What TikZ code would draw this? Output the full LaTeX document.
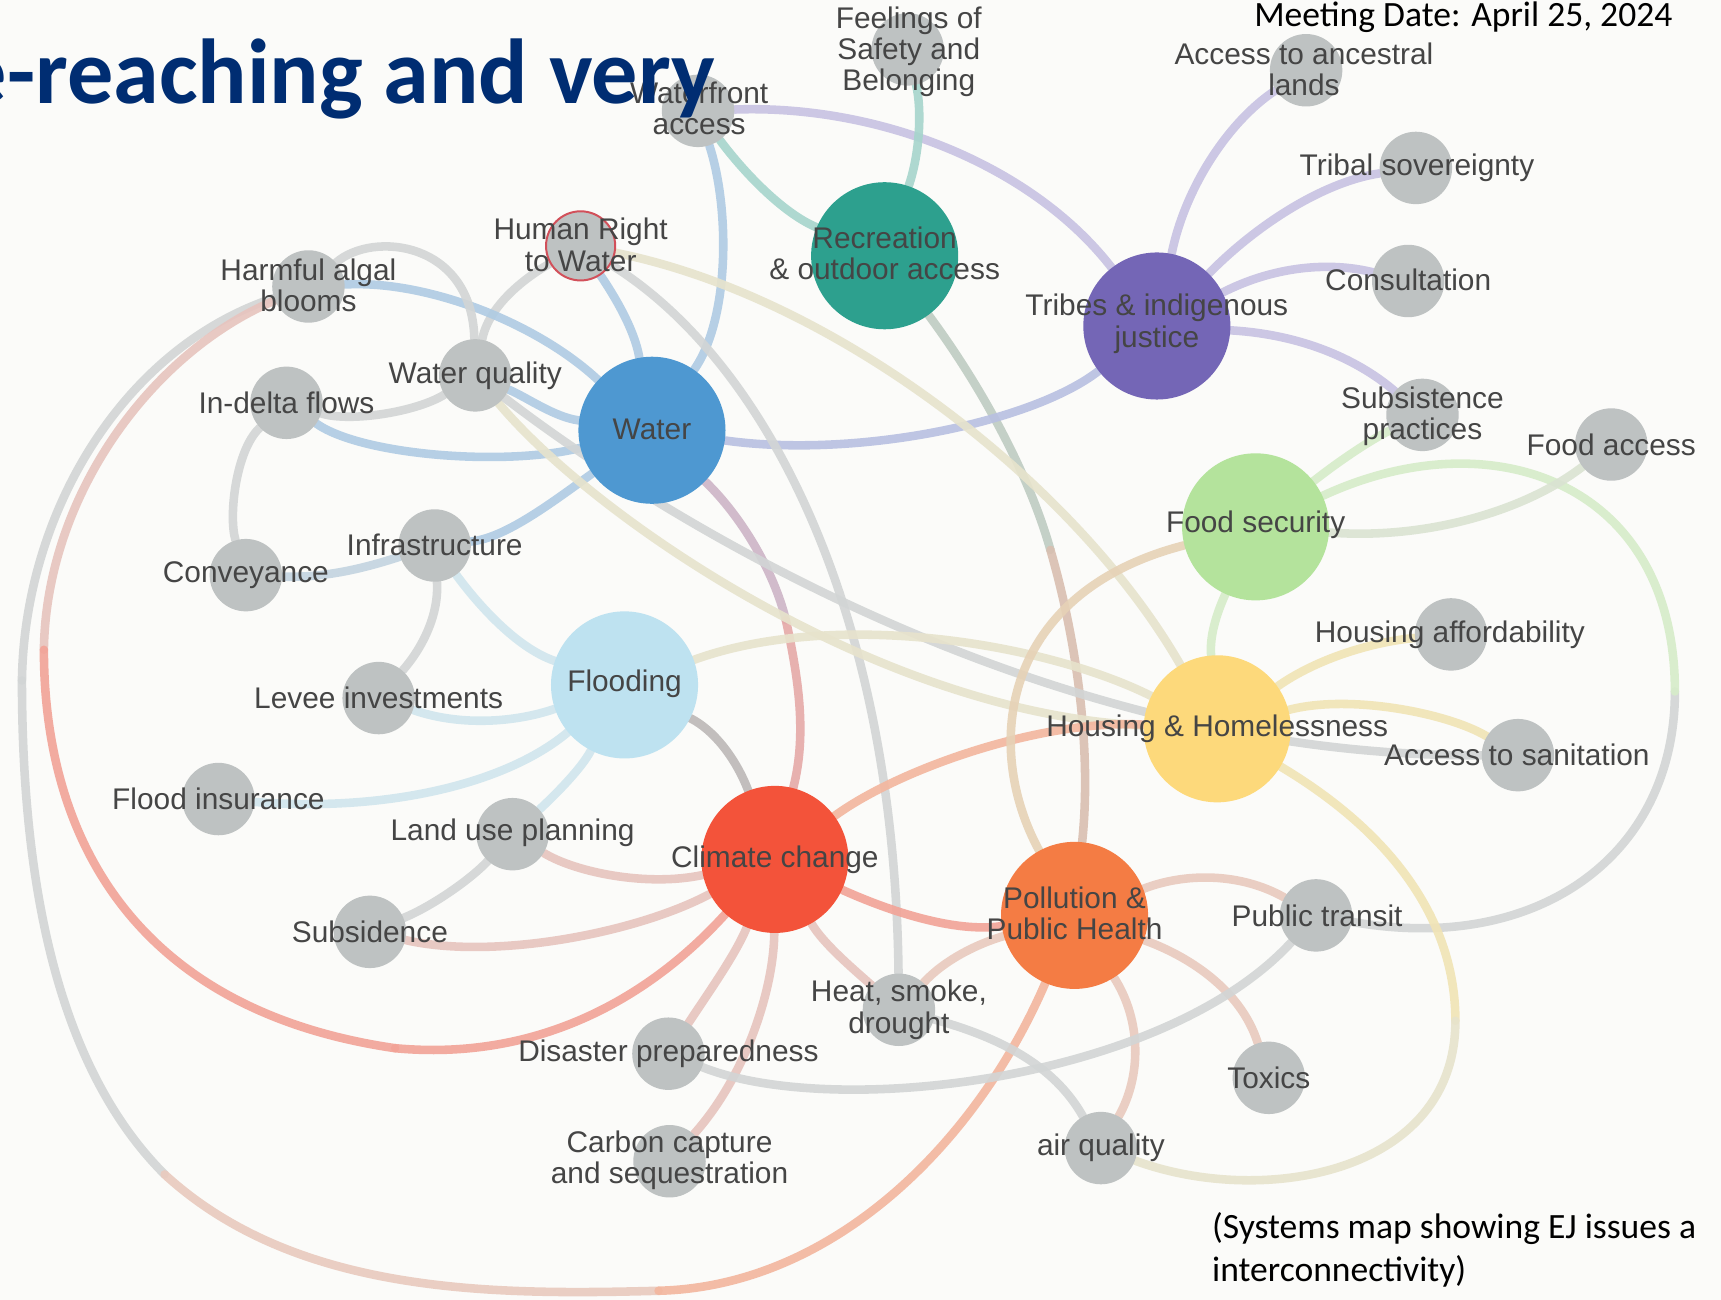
\documentclass[tikz,border=0pt]{standalone}
\usepackage{fontspec}
\setmainfont{Liberation Sans}
\newfontfamily\calib{Carlito}
\pgfdeclarelayer{bglayer}
\pgfdeclarelayer{edgelayer}
\pgfsetlayers{bglayer,edgelayer,main}
\definecolor{bgc}{HTML}{FBFBF9}
\definecolor{ngray}{HTML}{BEC2C2}
\definecolor{txt}{HTML}{454545}
\definecolor{titleblue}{HTML}{002D72}
\definecolor{hrwred}{HTML}{D2505A}
\definecolor{cRec}{HTML}{2DA08E}
\definecolor{cTri}{HTML}{7466B6}
\definecolor{cWater}{HTML}{4E98D1}
\definecolor{cFood}{HTML}{B4E39C}
\definecolor{cFlood}{HTML}{BEE2F0}
\definecolor{cHouse}{HTML}{FDD97B}
\definecolor{cClim}{HTML}{F3533A}
\definecolor{cPoll}{HTML}{F47C44}
\definecolor{eBlue}{HTML}{AFCBE3}
\definecolor{eGray}{HTML}{D2D5D5}
\definecolor{ePurp}{HTML}{C7C2E2}
\definecolor{eTeal}{HTML}{A6D5CC}
\definecolor{eRed}{HTML}{F2A397}
\definecolor{eRedGray}{HTML}{E7C4BE}
\definecolor{eOrange}{HTML}{F3B69E}
\definecolor{eOrGray}{HTML}{E9CABE}
\definecolor{eYellow}{HTML}{F1E4B5}
\definecolor{eYelGray}{HTML}{E7E3CC}
\definecolor{eGreen}{HTML}{D6ECC9}
\definecolor{eGreenGray}{HTML}{DAE3D2}
\definecolor{eLBlue}{HTML}{D0E5ED}
\definecolor{eMauve}{HTML}{CDB5C6}
\definecolor{eRedMauve}{HTML}{E5A9A8}
\definecolor{eBluePurp}{HTML}{B8C0E1}
\definecolor{eTealGray}{HTML}{BFCCC2}
\definecolor{eBrown}{HTML}{D9BFB0}
\definecolor{eOrGreen}{HTML}{E6D2B6}
\definecolor{eDark}{HTML}{BCB8B7}
\definecolor{eBlueGray}{HTML}{C3D4E0}
\tikzset{
  gnode/.style={circle, fill=ngray, minimum size=33pt, inner sep=0pt},
  bnode/.style={circle, minimum size=67pt, inner sep=0pt},
  lbl/.style={text=txt, font=\fontsize{13.6}{14.2}\selectfont, align=center, inner sep=0pt},
  edge/.style={line width=3.9pt, line cap=round, draw opacity=0.9},
  capt/.style={inner sep=0pt, font=\calib\fontsize{16.2}{19}\selectfont, text=black}
}
\begin{document}
\begin{tikzpicture}[x=0.5pt,y=-0.5pt]
\begin{pgfonlayer}{bglayer}
\fill[bgc] (0,0) rectangle (1568,1184);
\end{pgfonlayer}
\useasboundingbox (0,0) rectangle (1568,1184);

% ---------- circles ----------
\node[gnode] (wf) at (636,101) {};
\node[gnode] (fsb) at (827,45) {};
\node[bnode, fill=cRec] (rec) at (806,233) {};
\node[bnode, fill=cTri] (tri) at (1054,297) {};
\node[gnode] (anc) at (1190,64) {};
\node[gnode] (tsov) at (1290,153) {};
\node[gnode] (cons) at (1283,256) {};
\node[gnode] (subp) at (1296,378) {};
\node[gnode] (facc) at (1468,405) {};
\node[bnode, fill=cFood] (food) at (1144,480) {};
\node[gnode, draw=hrwred, line width=0.9pt, minimum size=31.5pt] (hrw) at (529,224) {};
\node[gnode] (hab) at (281,261) {};
\node[gnode] (wq) at (433,342) {};
\node[gnode] (idf) at (261,367) {};
\node[bnode, fill=cWater] (water) at (594,392) {};
\node[gnode] (infra) at (396,497) {};
\node[gnode] (conv) at (224,524) {};
\node[bnode, fill=cFlood] (flood) at (569,624) {};
\node[gnode] (levee) at (345,636) {};
\node[gnode] (finsu) at (199,728) {};
\node[gnode] (lup) at (467,760) {};
\node[gnode] (subs) at (337,849) {};
\node[bnode, fill=cClim] (clim) at (706,783) {};
\node[gnode] (dis) at (609,960) {};
\node[gnode] (carb) at (610,1058) {};
\node[gnode] (heat) at (819,920) {};
\node[bnode, fill=cPoll] (poll) at (979,834) {};
\node[gnode] (ptr) at (1199,834) {};
\node[gnode] (tox) at (1156,982) {};
\node[gnode] (airq) at (1003,1046) {};
\node[bnode, fill=cHouse] (house) at (1109,664) {};
\node[gnode] (haff) at (1322,578) {};
\node[gnode] (sanit) at (1383,688) {};

% ---------- free coordinates for long arcs ----------
\coordinate (redL) at (40,592);
\coordinate (redB) at (360,955);
\coordinate (outL) at (20,620);
\coordinate (outM) at (150,1070);
\coordinate (outB) at (600,1176);
\coordinate (gArc) at (1526,630);
\coordinate (yArc) at (1326,930);
\coordinate (rpMid) at (957,501);
\coordinate (wcMid) at (716,565);

% ---------- connectors ----------
\begin{pgfonlayer}{edgelayer}
% long arcs from Harmful algal blooms
\draw[edge, draw=eGray] (hab) .. controls (110,318) and (22,470) .. (outL);
\draw[edge, draw=eGray] (outL) .. controls (20,850) and (70,990) .. (outM);
\draw[edge, draw=eOrGray] (outM) .. controls (270,1180) and (450,1180) .. (outB);
\draw[edge, draw=eOrange] (outB) .. controls (760,1172) and (890,1040) .. (poll);
\draw[edge, draw=eRedGray] (hab) .. controls (140,320) and (42,450) .. (redL);
\draw[edge, draw=eRed] (redL) .. controls (40,760) and (120,920) .. (redB);
\draw[edge, draw=eRed] (redB) .. controls (500,968) and (600,900) .. (clim);

% Waterfront / Feelings / Recreation / Tribes
\draw[edge, draw=eTeal] (wf) .. controls (680,160) and (715,195) .. (rec);
\draw[edge, draw=ePurp] (wf) .. controls (800,95) and (940,150) .. (tri);
\draw[edge, draw=eBlue] (wf) .. controls (665,190) and (665,290) .. (water);
\draw[edge, draw=eTeal] (fsb) .. controls (840,100) and (838,140) .. (rec);
\draw[edge, draw=eTealGray] (rec) .. controls (900,360) and (940,440) .. (rpMid);
\draw[edge, draw=eBrown] (rpMid) .. controls (980,580) and (995,680) .. (poll);
\draw[edge, draw=ePurp] (tri) .. controls (1080,170) and (1120,110) .. (anc);
\draw[edge, draw=ePurp] (tri) .. controls (1150,200) and (1210,165) .. (tsov);
\draw[edge, draw=ePurp] (tri) .. controls (1160,243) and (1210,238) .. (cons);
\draw[edge, draw=ePurp] (tri) .. controls (1190,305) and (1240,330) .. (subp);
\draw[edge, draw=eBluePurp] (tri) .. controls (940,385) and (780,418) .. (water);

% Human Right to Water
\draw[edge, draw=eBlue] (hrw) .. controls (560,270) and (578,300) .. (water);
\draw[edge, draw=eGray] (hrw) .. controls (475,255) and (445,280) .. (wq);
\draw[edge, draw=eYelGray] (hrw) .. controls (760,270) and (980,440) .. (house);
\draw[edge, draw=eGray] (hrw) .. controls (700,330) and (815,560) .. (heat);

% Water cluster
\draw[edge, draw=eBlue] (hab) .. controls (390,255) and (490,295) .. (water);
\draw[edge, draw=eBlue] (wq) .. controls (480,362) and (505,380) .. (water);
\draw[edge, draw=eBlue] (idf) .. controls (330,415) and (460,425) .. (water);
\draw[edge, draw=eBlue] (infra) .. controls (460,490) and (500,460) .. (water);
\draw[edge, draw=eMauve] (water) .. controls (675,470) and (705,520) .. (wcMid);
\draw[edge, draw=eRedMauve] (wcMid) .. controls (728,620) and (735,670) .. (clim);
\draw[edge, draw=eGray] (hab) .. controls (340,210) and (430,220) .. (wq);
\draw[edge, draw=eGray] (idf) .. controls (320,385) and (380,375) .. (wq);
\draw[edge, draw=eYelGray] (wq) .. controls (540,470) and (800,650) .. (house);
\draw[edge, draw=eGray] (wq) .. controls (600,470) and (950,690) .. (sanit);
\draw[edge, draw=eGray] (idf) .. controls (215,410) and (208,470) .. (conv);
\draw[edge, draw=eBlueGray] (conv) .. controls (300,527) and (340,515) .. (infra);
\draw[edge, draw=eGray] (infra) .. controls (400,560) and (385,590) .. (levee);
\draw[edge, draw=eLBlue] (infra) .. controls (435,550) and (470,590) .. (flood);

% Flooding cluster
\draw[edge, draw=eLBlue] (levee) .. controls (420,662) and (470,658) .. (flood);
\draw[edge, draw=eLBlue] (finsu) .. controls (350,740) and (460,715) .. (flood);
\draw[edge, draw=eLBlue] (lup) .. controls (505,725) and (530,700) .. (flood);
\draw[edge, draw=eGray] (lup) .. controls (430,800) and (395,825) .. (subs);
\draw[edge, draw=eRedGray] (lup) .. controls (525,795) and (590,808) .. (clim);
\draw[edge, draw=eDark] (flood) .. controls (650,665) and (670,690) .. (clim);
\draw[edge, draw=eYelGray] (flood) .. controls (760,555) and (950,585) .. (house);

% Climate change
\draw[edge, draw=eRedGray] (subs) .. controls (450,875) and (580,850) .. (clim);
\draw[edge, draw=eRedGray] (clim) .. controls (670,870) and (645,905) .. (dis);
\draw[edge, draw=eRedGray] (clim) .. controls (705,900) and (680,980) .. (carb);
\draw[edge, draw=eRedGray] (clim) .. controls (750,860) and (780,885) .. (heat);
\draw[edge, draw=eRed] (clim) .. controls (810,830) and (870,850) .. (poll);
\draw[edge, draw=eOrange] (clim) .. controls (820,700) and (950,655) .. (house);

% Pollution & Public Health
\draw[edge, draw=eOrGray] (poll) .. controls (890,860) and (860,875) .. (heat);
\draw[edge, draw=eOrGray] (poll) .. controls (1080,795) and (1130,795) .. (ptr);
\draw[edge, draw=eOrGray] (poll) .. controls (1080,870) and (1130,900) .. (tox);
\draw[edge, draw=eOrGray] (poll) .. controls (1040,930) and (1040,980) .. (airq);
\draw[edge, draw=eOrGreen] (poll) .. controls (895,680) and (912,540) .. (food);
\draw[edge, draw=eGray] (heat) .. controls (910,945) and (960,970) .. (airq);
\draw[edge, draw=eGray] (dis) .. controls (760,1020) and (1060,985) .. (ptr);

% Food security / Housing
\draw[edge, draw=eGray] (ptr) .. controls (1400,870) and (1526,780) .. (gArc);
\draw[edge, draw=eGreen] (gArc) .. controls (1526,440) and (1360,380) .. (food);
\draw[edge, draw=eGreen] (food) .. controls (1220,420) and (1250,400) .. (subp);
\draw[edge, draw=eGreenGray] (food) .. controls (1300,492) and (1390,465) .. (facc);
\draw[edge, draw=eGreen] (food) .. controls (1108,560) and (1102,580) .. (house);
\draw[edge, draw=eYellow] (house) .. controls (1200,600) and (1250,585) .. (haff);
\draw[edge, draw=eYellow] (house) .. controls (1230,632) and (1320,650) .. (sanit);
\draw[edge, draw=eYellow] (house) .. controls (1270,760) and (1326,840) .. (yArc);
\draw[edge, draw=eYelGray] (yArc) .. controls (1326,1070) and (1150,1100) .. (airq);
\end{pgfonlayer}

% ---------- labels ----------
\node[lbl] (wfL) at (637,99) {Waterfront\\access};
\node[lbl] (fsbL) at (828,47) {Feelings of\\Safety and\\Belonging};
\node[lbl] (recL) at (806,231) {Recreation\\\& outdoor access};
\node[lbl] (triL) at (1054,295) {Tribes \& indigenous\\justice};
\node[lbl] (ancL) at (1188,63) {Access to ancestral\\lands};
\node[lbl] (tsovL) at (1291,153) {Tribal sovereignty};
\node[lbl] (consL) at (1283,255) {Consultation};
\node[lbl] (subpL) at (1296,379) {Subsistence\\practices};
\node[lbl] (faccL) at (1468,405) {Food access};
\node[lbl] (foodL) at (1144,478) {Food security};
\node[lbl] (hrwL) at (529,223) {Human Right\\to Water};
\node[lbl] (habL) at (281,260) {Harmful algal\\blooms};
\node[lbl] (wqL) at (433,342) {Water quality};
\node[lbl] (idfL) at (261,367) {In-delta flows};
\node[lbl] (waterL) at (594,391) {Water};
\node[lbl] (infraL) at (396,496) {Infrastructure};
\node[lbl] (convL) at (224,524) {Conveyance};
\node[lbl] (floodL) at (569,623) {Flooding};
\node[lbl] (leveeL) at (345,636) {Levee investments};
\node[lbl] (finsuL) at (199,728) {Flood insurance};
\node[lbl] (lupL) at (467,759) {Land use planning};
\node[lbl] (subsL) at (337,849) {Subsidence};
\node[lbl] (climL) at (706,783) {Climate change};
\node[lbl] (disL) at (609,960) {Disaster preparedness};
\node[lbl] (carbL) at (610,1057) {Carbon capture\\and sequestration};
\node[lbl] (heatL) at (819,920) {Heat, smoke,\\drought};
\node[lbl] (pollL) at (979,832) {Pollution \&\\Public Health};
\node[lbl] (ptrL) at (1200,834) {Public transit};
\node[lbl] (toxL) at (1156,982) {Toxics};
\node[lbl] (airqL) at (1003,1046) {air quality};
\node[lbl] (houseL) at (1109,664) {Housing \& Homelessness};
\node[lbl] (haffL) at (1321,578) {Housing affordability};
\node[lbl] (sanitL) at (1382,688) {Access to sanitation};

% ---------- slide texts ----------
\node[anchor=base east, inner sep=0pt, font=\calib\bfseries\fontsize{42}{50}\selectfont, text=titleblue] (title) at (652,94) {e-reaching and very};
\node[capt, anchor=base east] (mdate) at (1524,24) {Meeting Date: April 25, 2024};
\node[capt, anchor=base west] (cap1) at (1104,1128) {(Systems map showing EJ issues a};
\node[capt, anchor=base west] (cap2) at (1104,1168) {interconnectivity)};
\end{tikzpicture}
\end{document}
